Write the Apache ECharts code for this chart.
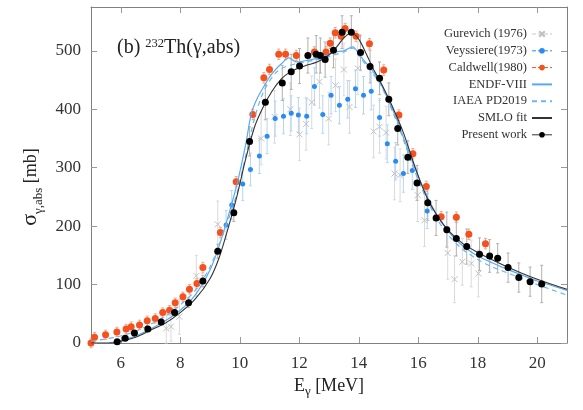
<!DOCTYPE html>
<html lang="en">
<head>
<meta charset="UTF-8">
<title>232Th(γ,abs)</title>
<script src="https://cdn.jsdelivr.net/npm/echarts@6/dist/echarts.min.js"></script>
<style>
  body { margin: 0; background: #fff; }
  #chart { width: 583px; height: 410px; }
</style>
</head>
<body>
<div id="chart"></div>
<script>
// Present work
const presE = [5.88, 6.15, 6.46, 6.91, 7.36, 7.81, 8.28, 8.76, 9.26, 9.8, 10.33, 10.86, 11.43, 11.73, 12.01, 12.29, 12.57, 12.71, 12.87, 13.15, 13.44, 13.75, 14.06, 14.38, 14.7, 15.01, 15.31, 15.65, 15.96, 16.32, 16.6, 16.96, 17.28, 17.63, 18.06, 18.4, 18.67, 19.02, 19.38, 19.76, 20.15];
const presY = [2, 8, 17, 24, 36, 52, 69, 106, 157, 223, 345, 412, 445, 464, 474, 492, 494, 492, 485, 501, 532, 532, 497, 473, 453, 417, 367, 318, 274, 240, 214, 194, 179, 165, 152, 149, 145, 129, 112, 105, 101];
const presErr = [2, 3, 3, 4, 5, 6, 8, 10, 12, 15, 25, 30, 30, 30, 30, 30, 32, 30, 30, 30, 28, 28, 30, 28, 28, 28, 28, 28, 30, 30, 30, 30, 30, 30, 28, 28, 25, 25, 25, 25, 32];

// Caldwell (1980)
const calE = [5.0, 5.12, 5.49, 5.87, 6.18, 6.35, 6.63, 6.89, 7.16, 7.41, 7.64, 7.83, 8.09, 8.31, 8.56, 8.76, 9.35, 9.88, 10.44, 10.81, 11.0, 11.31, 11.54, 11.9, 12.51, 12.9, 13.04, 13.21, 13.41, 13.54, 13.91, 14.36, 14.84, 15.35, 15.82, 16.27, 16.77, 17.28, 17.7, 18.26];
const calY = [0, 10, 14, 19, 24, 28, 31, 38, 42, 52, 56, 69, 79, 92, 102, 129, 189, 276, 391, 454, 468, 494, 494, 492, 498, 498, 513, 531, 525, 538, 525, 512, 467, 390, 324, 268, 216, 215, 186, 170];
const calErr = [8, 8, 8, 8, 8, 8, 8, 8, 8, 8, 8, 8, 8, 8, 8, 9, 9, 9, 9, 9, 9, 9, 9, 9, 9, 9, 9, 9, 9, 9, 9, 9, 9, 9, 9, 9, 9, 9, 9, 9];

// Veyssiere (1973)
const veyE = [9.54, 9.73, 10.1, 10.36, 10.66, 10.92, 11.19, 11.47, 11.73, 11.97, 12.25, 12.51, 12.79, 13.07, 13.35, 13.63, 13.89, 14.16, 14.42, 14.7, 14.96, 15.24, 15.5, 15.8, 16.3];
const veyY = [202, 236, 272, 297, 320, 354, 384, 388, 393, 390, 388, 439, 391, 424, 407, 417, 435, 424, 431, 386, 341, 311, 290, 295, 226];
const veyErr = [25, 25, 28, 28, 30, 30, 30, 30, 30, 30, 30, 32, 32, 32, 32, 32, 32, 32, 32, 32, 32, 32, 32, 32, 30];

// Gurevich (1976)
const gurE = [7.53, 7.69, 7.97, 8.54, 9.26, 10.72, 11.17, 11.7, 12.01, 12.23, 12.42, 12.68, 12.99, 13.22, 13.5, 13.69, 13.97, 14.5, 14.7, 14.92, 15.2, 15.39, 15.98, 16.21, 16.99, 17.22, 17.48, 17.78, 18.02];
const gurY = [25, 28, 45, 115, 203, 350, 387, 400, 357, 375, 412, 447, 384, 441, 468, 404, 470, 362, 370, 360, 290, 287, 253, 210, 154, 109, 139, 136, 119];
const gurErr = [25, 25, 30, 35, 40, 45, 45, 45, 45, 45, 45, 45, 45, 45, 45, 45, 45, 45, 45, 45, 45, 45, 45, 45, 45, 40, 40, 40, 40];

// ENDF-VIII
const endfE = [5.6, 6.0, 6.5, 7.0, 7.5, 8.0, 8.5, 9.0, 9.3, 9.6, 9.9, 10.2, 10.4, 10.6, 10.8, 11.0, 11.2, 11.4, 11.65, 11.9, 12.2, 12.6, 12.9, 13.2, 13.5, 13.8, 14.0, 14.2, 14.4, 14.7, 15.0, 15.3, 15.6, 16.0, 16.4, 16.8, 17.2, 17.6, 18.0, 18.5, 19.0, 19.5, 20.0, 20.5, 21.0];
const endfY = [0, 4, 12, 24, 38, 56, 82, 125, 165, 215, 270, 340, 395, 420, 438, 455, 468, 478, 488, 481, 483, 487, 492, 498, 500, 507, 495, 482, 470, 448, 415, 380, 338, 285, 240, 205, 180, 162, 149, 137, 126, 116, 106, 98, 90];

// IAEA PD2019
const iaeaE = [5.0, 5.5, 6.0, 6.5, 7.0, 7.5, 8.0, 8.5, 9.0, 9.5, 9.9, 10.2, 10.5, 10.8, 11.2, 11.5, 11.9, 12.3, 12.7, 13.1, 13.5, 13.8, 14.0, 14.3, 14.7, 15.0, 15.4, 15.8, 16.2, 16.6, 17.0, 17.5, 18.0, 18.5, 19.0, 19.5, 20.0, 20.5, 21.0];
const iaeaY = [3, 7, 12, 20, 32, 46, 65, 90, 130, 195, 255, 320, 385, 430, 462, 472, 478, 482, 486, 492, 498, 505, 492, 472, 445, 412, 362, 305, 255, 215, 185, 160, 143, 130, 120, 110, 100, 91, 82];

// SMLO fit
const smloE = [5.0, 5.8, 6.0, 6.5, 7.0, 7.5, 8.0, 8.5, 9.0, 9.3, 9.6, 9.9, 10.2, 10.5, 10.8, 11.1, 11.4, 11.7, 12.0, 12.3, 12.6, 12.9, 13.2, 13.5, 13.75, 14.0, 14.25, 14.5, 14.8, 15.1, 15.5, 15.9, 16.3, 16.7, 17.1, 17.5, 18.0, 18.5, 19.0, 19.5, 20.0, 20.5, 21.0];
const smloY = [0, 0, 3, 10, 22, 34, 52, 75, 110, 145, 195, 250, 315, 370, 405, 432, 452, 464, 471, 476, 481, 489, 503, 522, 531, 520, 495, 468, 440, 408, 360, 300, 248, 213, 188, 170, 155, 142, 130, 119, 109, 100, 92];

const xTicks = [6, 8, 10, 12, 14, 16, 18, 20];
const yTicks = [0, 100, 200, 300, 400, 500];

const serif = "'Liberation Serif', 'DejaVu Serif', serif";
const frame = '#808080';
const tickCol = '#999';

function pairs(xs, ys) { return xs.map((x, i) => [x, ys[i]]); }
function bars(xs, ys, es) { return xs.map((x, i) => [x, ys[i] - es[i], ys[i] + es[i]]); }

function errorSeries(name, xs, ys, es, color, z) {
  return {
    name: name,
    type: 'custom',
    z: z,
    silent: true,
    data: bars(xs, ys, es),
    encode: { x: 0, y: [1, 2] },
    renderItem: function (params, api) {
      const lo = api.coord([api.value(0), api.value(1)]);
      const hi = api.coord([api.value(0), api.value(2)]);
      const c = 1.5;
      const st = { stroke: color, lineWidth: 1 };
      return {
        type: 'group',
        children: [
          { type: 'line', shape: { x1: lo[0], y1: lo[1], x2: hi[0], y2: hi[1] }, style: st },
          { type: 'line', shape: { x1: lo[0] - c, y1: lo[1], x2: lo[0] + c, y2: lo[1] }, style: st },
          { type: 'line', shape: { x1: hi[0] - c, y1: hi[1], x2: hi[0] + c, y2: hi[1] }, style: st }
        ]
      };
    }
  };
}

function pointSeries(name, xs, ys, symbol, size, itemStyle, z) {
  return {
    name: name,
    type: 'line',
    z: z,
    data: pairs(xs, ys),
    symbol: symbol,
    symbolSize: size,
    showSymbol: true,
    showAllSymbol: true,
    lineStyle: { opacity: 0, width: 0 },
    itemStyle: itemStyle,
    emphasis: { disabled: true },
    animation: false
  };
}

const chart = echarts.init(document.getElementById('chart'));

const option = {
  animation: false,
  grid: { left: 91, right: 16, top: 7, bottom: 67 },
  title: {
    text: '{t|(b) }{sup|232}{t|Th(γ,abs)}',
    left: 112,
    top: 32,
    textStyle: {
      fontWeight: 'normal',
      rich: {
        t: { fontFamily: serif, fontSize: 20, fontWeight: 'normal', color: '#222', verticalAlign: 'bottom' },
        sup: { fontFamily: serif, fontSize: 12.5, fontWeight: 'normal', color: '#222', verticalAlign: 'bottom', padding: [0, 0, 8, 0] }
      }
    }
  },
  legend: {
    orient: 'vertical',
    right: 30,
    top: 27,
    padding: 0,
    align: 'right',
    itemWidth: 20,
    itemHeight: 7,
    itemGap: 2.8,
    textStyle: { fontFamily: serif, fontSize: 12.5, color: '#333', lineHeight: 14 },
    data: [
      { name: 'Gurevich (1976)', lineStyle: { color: '#c8c8c8', width: 1, opacity: 1, type: 'dashed' } },
      { name: 'Veyssiere(1973)', lineStyle: { color: '#2a8cf0', width: 1, opacity: 1, type: 'dashed' } },
      { name: 'Caldwell(1980)', lineStyle: { color: '#f5501e', width: 1, opacity: 1, type: 'dashed' } },
      { name: 'ENDF-VIII', itemStyle: { opacity: 0 } },
      { name: 'IAEA PD2019', itemStyle: { opacity: 0 } },
      { name: 'SMLO fit', itemStyle: { opacity: 0 } },
      { name: 'Present work', lineStyle: { color: '#333', width: 1, opacity: 1, type: 'solid' } }
    ]
  },
  xAxis: [{
    type: 'value',
    min: 5,
    max: 21,
    position: 'bottom',
    name: '{n|E}{sub|γ}{n| [MeV]}',
    nameLocation: 'middle',
    nameGap: 34,
    nameTextStyle: {
      rich: {
        n: { fontFamily: serif, fontSize: 18, color: '#222', verticalAlign: 'top' },
        sub: { fontFamily: serif, fontSize: 13, color: '#222', verticalAlign: 'top', padding: [8, 0, 0, 0] }
      }
    },
    axisLine: { show: true, onZero: false, lineStyle: { color: frame, width: 1 } },
    axisTick: { show: true, inside: true, length: 6, customValues: xTicks, lineStyle: { color: tickCol } },
    axisLabel: { customValues: xTicks, fontFamily: serif, fontSize: 17, color: '#333', margin: 12 },
    splitLine: { show: false }
  }, {
    type: 'value',
    min: 5,
    max: 21,
    position: 'top',
    axisLine: { show: true, onZero: false, lineStyle: { color: frame, width: 1 } },
    axisTick: { show: true, inside: true, length: 6, customValues: xTicks, lineStyle: { color: tickCol } },
    axisLabel: { show: false },
    splitLine: { show: false }
  }],
  yAxis: [{
    type: 'value',
    min: 0,
    max: 575,
    position: 'left',
    name: '{s|σ}{sub|γ,abs}{n| [mb]}',
    nameLocation: 'middle',
    nameGap: 40,
    nameRotate: 90,
    nameTextStyle: {
      padding: [0, 24, 0, 0],
      rich: {
        s: { fontFamily: serif, fontSize: 22, color: '#222', verticalAlign: 'top' },
        n: { fontFamily: serif, fontSize: 18, color: '#222', verticalAlign: 'top', padding: [3, 0, 0, 0] },
        sub: { fontFamily: serif, fontSize: 13, color: '#222', verticalAlign: 'top', padding: [12, 0, 0, 0] }
      }
    },
    axisLine: { show: true, onZero: false, lineStyle: { color: frame, width: 1 } },
    axisTick: { show: true, inside: true, length: 6, customValues: yTicks, lineStyle: { color: tickCol } },
    axisLabel: { customValues: yTicks, fontFamily: serif, fontSize: 17, color: '#333', margin: 10 },
    splitLine: { show: false }
  }, {
    type: 'value',
    min: 0,
    max: 575,
    position: 'right',
    axisLine: { show: true, onZero: false, lineStyle: { color: frame, width: 1 } },
    axisTick: { show: true, inside: true, length: 6, customValues: yTicks, lineStyle: { color: tickCol } },
    axisLabel: { show: false },
    splitLine: { show: false }
  }],
  series: [
    errorSeries('gurErr', gurE, gurY, gurErr, '#dadada', 1),
    errorSeries('veyErr', veyE, veyY, veyErr, '#b3d6f7', 2),
    errorSeries('calErr', calE, calY, calErr, '#f7a58a', 2),
    errorSeries('presErr', presE, presY, presErr, '#b0b0b0', 3),
    pointSeries('Gurevich (1976)', gurE, gurY, 'path://M0 0L10 10M10 0L0 10', 6,
      { color: 'rgba(0,0,0,0)', borderColor: '#c0c0c0', borderWidth: 1 }, 4),
    pointSeries('Veyssiere(1973)', veyE, veyY, 'circle', 5, { color: '#2a8cf0' }, 5),
    pointSeries('Caldwell(1980)', calE, calY, 'circle', 7, { color: '#f5501e' }, 5),
    {
      name: 'ENDF-VIII', type: 'line', z: 6, data: pairs(endfE, endfY), symbol: 'none', smooth: 0.3,
      lineStyle: { color: '#5aa9ee', width: 1.2 }, itemStyle: { color: '#5aa9ee' }
    },
    {
      name: 'IAEA PD2019', type: 'line', z: 6, data: pairs(iaeaE, iaeaY), symbol: 'none', smooth: 0.3,
      lineStyle: { color: '#6fb4f0', width: 1.2, type: [5, 4] }, itemStyle: { color: '#6fb4f0' }
    },
    {
      name: 'SMLO fit', type: 'line', z: 7, data: pairs(smloE, smloY), symbol: 'none', smooth: 0.3,
      lineStyle: { color: '#333', width: 1.1 }, itemStyle: { color: '#333' }
    },
    pointSeries('Present work', presE, presY, 'circle', 7, { color: '#000' }, 8)
  ]
};

chart.setOption(option);
</script>
</body>
</html>
